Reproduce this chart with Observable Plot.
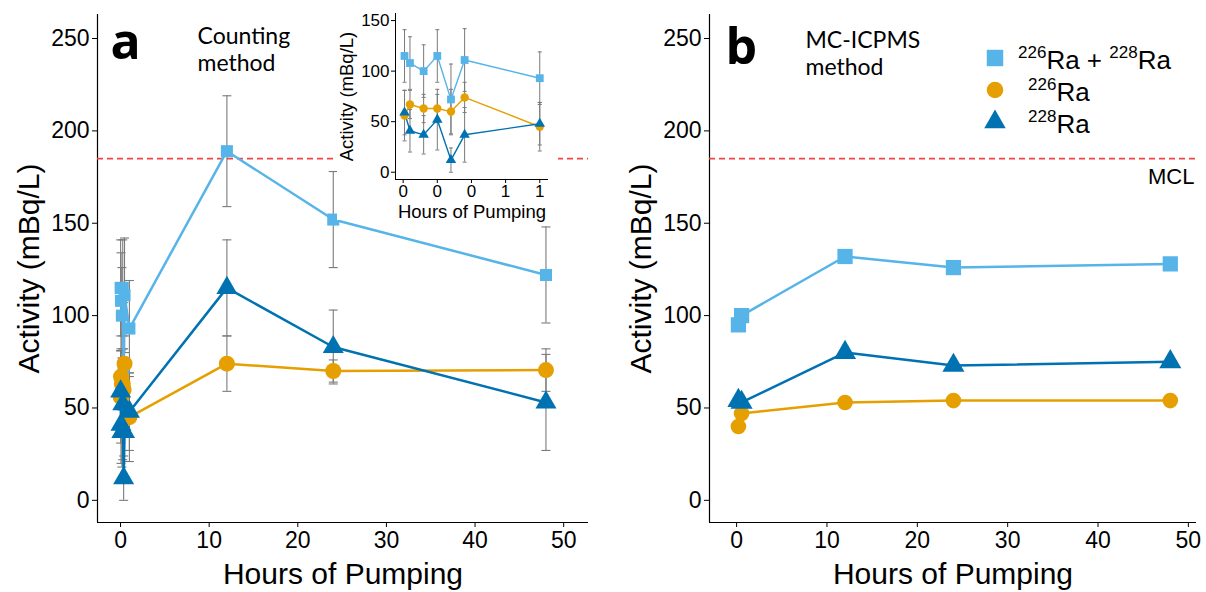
<!DOCTYPE html>
<html><head><meta charset="utf-8">
<script src="https://cdn.jsdelivr.net/npm/d3@7"></script>
<script src="https://cdn.jsdelivr.net/npm/@observablehq/plot@0.6"></script>
<style>
body{margin:0;background:#fff;}
#wrap{position:relative;width:1206px;height:592px;overflow:hidden;background:#fff;}
#wrap > svg{position:absolute;overflow:visible;}
</style></head><body><div id="wrap"></div>
<script>
// ---- data ----
const hoursA    = [0.01, 0.05, 0.15, 0.25, 0.35, 0.45, 1, 12, 24, 48];
const totalA    = [115, 108, 100, 115, 72, 111, 93, 189, 152, 122];
const totalErrA = [26, 26, 26, 26, 35, 31, 26, 30, 26, 26];
const ra226A    = [56, 67, 63, 63, 60, 74, 45, 74, 70, 70.5];
const ra226ErrA = [25, 14, 14, 14, 22, 15, 24, 15, 6, 11.5];
const ra228A    = [59, 41, 37, 52, 12, 37, 48, 115, 83, 53];
const ra228ErrA = [22, 21, 19, 30, 12, 27, 21, 26, 20, 26];

const hoursB = [0.2, 0.55, 12, 24, 48];
const totalB = [95, 100, 132, 126, 128];
const ra226B = [40, 47, 53, 54, 54];
const ra228B = [54, 53, 80, 73, 75];

const mcl = [185];
const seriesNames   = ["226Ra + 228Ra", "226Ra", "228Ra"];
const seriesColors  = ["#56B4E9", "#E69F00", "#0072B2"];
const seriesSymbols = ["square", "circle", "triangle"];
const yTicks = [0, 50, 100, 150, 200, 250];
const xTicks = [0, 10, 20, 30, 40, 50];
const insetXTicks = [0, 0.25, 0.5, 0.75, 1];
const insetXTickLabels = ["0", "0", "0", "1", "1"];
const insetYTicks = [0, 50, 100, 150];
const yDomain = [-12, 263];
const xDomainA = [-2.6, 52.8];
const xDomainB = [-3.0, 50.9];
const insetXDomain = [-0.056, 1.064];
const insetYDomain = [-7.2, 157];

// ---- tidy tables ----
function rows(hours, vals, errs) {
  const out = [];
  vals.forEach((arr, s) => arr.forEach((v, i) =>
    out.push({hour: hours[i], value: v, err: errs ? errs[s][i] : 0, series: seriesNames[s]})));
  return out;
}
const dataA = rows(hoursA, [totalA, ra226A, ra228A], [totalErrA, ra226ErrA, ra228ErrA]);
const dataInset = dataA.filter(d => d.hour <= 1);
const dataB = rows(hoursB, [totalB, ra226B, ra228B]);

const SANS = "Liberation Sans, Arial, sans-serif";
const HUM = "Lato, Open Sans, sans-serif";

function errorMarks(data, {capW, ew}) {
  const cap = {draw(ctx) { ctx.moveTo(-capW / 2, 0); ctx.lineTo(capW / 2, 0); }};
  return [
    Plot.ruleX(data, {x: "hour", y1: d => d.value - d.err, y2: d => d.value + d.err, stroke: "#7a7a7a", strokeWidth: ew}),
    Plot.dot(data, {x: "hour", y: d => d.value + d.err, symbol: cap, r: 3, fill: "none", stroke: "#7a7a7a", strokeWidth: ew}),
    Plot.dot(data, {x: "hour", y: d => d.value - d.err, symbol: cap, r: 3, fill: "none", stroke: "#7a7a7a", strokeWidth: ew})
  ];
}
function seriesMarks(data, {lw, rs}) {
  const marks = [];
  seriesNames.forEach((name, i) => {
    marks.push(Plot.line(data.filter(d => d.series === name), {x: "hour", y: "value", stroke: seriesColors[i], strokeWidth: lw}));
  });
  seriesNames.forEach((name, i) => {
    marks.push(Plot.dot(data.filter(d => d.series === name), {x: "hour", y: "value", symbol: seriesSymbols[i], r: rs[i], fill: seriesColors[i], stroke: "none"}));
  });
  return marks;
}

function axes(xDomain, fs) {
  return [
    Plot.ruleX([xDomain[0]], {stroke: "black", strokeWidth: 1.2}),
    Plot.ruleY([yDomain[0]], {stroke: "black", strokeWidth: 1.2}),
    Plot.axisY(yTicks, {tickSize: 5, tickPadding: 3, fontSize: fs, label: null}),
    Plot.axisX(xTicks, {tickSize: 5, tickPadding: 4, fontSize: fs, label: null}),
    Plot.text(["Hours of Pumping"], {frameAnchor: "bottom", dy: 52, fontSize: 30, fontFamily: SANS, textAnchor: "middle", lineAnchor: "middle"}),
    Plot.text(["Activity (mBq/L)"], {frameAnchor: "left", dx: -68, rotate: -90, fontSize: 30, fontFamily: SANS, textAnchor: "middle", lineAnchor: "middle"})
  ];
}

const wrap = document.getElementById("wrap");

// ---- panel a ----
const panelA = Plot.plot({
  width: 600, height: 592,
  marginLeft: 97, marginRight: 12, marginTop: 14, marginBottom: 70,
  style: {fontFamily: SANS, color: "black", background: "white", overflow: "visible"},
  x: {domain: xDomainA},
  y: {domain: yDomain},
  marks: [
    ...axes(xDomainA, 23),
    ...errorMarks(dataA, {capW: 9, ew: 1.1}),
    Plot.ruleY(mcl, {stroke: "#F04545", strokeWidth: 1.6, strokeDasharray: "6,4"}),
    ...seriesMarks(dataA, {lw: 2.5, rs: [6.8, 8, 7.8]}),
    Plot.text(["a"], {frameAnchor: "top-left", dx: 13, dy: 28, fontSize: 50, fontWeight: "bold", fontFamily: "Open Sans, sans-serif", textAnchor: "start", lineAnchor: "middle"}),
    Plot.text(["Counting\nmethod"], {frameAnchor: "top-left", dx: 100, dy: 10, fontSize: 23, lineHeight: 1.18, fontFamily: HUM, textAnchor: "start", lineAnchor: "top"})
  ]
});
panelA.style.left = "0px"; panelA.style.top = "0px";
wrap.appendChild(panelA);

// ---- panel b ----
const panelB = Plot.plot({
  width: 606, height: 592,
  marginLeft: 109, marginRight: 10, marginTop: 14, marginBottom: 70,
  style: {fontFamily: SANS, color: "black", background: "white", overflow: "visible"},
  x: {domain: xDomainB},
  y: {domain: yDomain},
  marks: [
    ...axes(xDomainB, 23),
    Plot.ruleY(mcl, {stroke: "#F04545", strokeWidth: 1.6, strokeDasharray: "6,4"}),
    Plot.text(mcl, {x: xDomainB[1], y: d => d, text: () => "MCL", dy: 18, dx: -2, textAnchor: "end", fontSize: 22, fontFamily: SANS}),
    ...seriesMarks(dataB, {lw: 2.5, rs: [8.6, 7.8, 8.2]}),
    Plot.text(["b"], {frameAnchor: "top-left", dx: 16, dy: 33, fontSize: 50, fontWeight: "bold", fontFamily: "Open Sans, sans-serif", textAnchor: "start", lineAnchor: "middle"}),
    Plot.text(["MC-ICPMS\nmethod"], {frameAnchor: "top-left", dx: 96, dy: 14, fontSize: 23, lineHeight: 1.18, fontFamily: HUM, textAnchor: "start", lineAnchor: "top"})
  ]
});
panelB.style.left = "600px"; panelB.style.top = "0px";
wrap.appendChild(panelB);

// ---- inset ----
const inset = Plot.plot({
  width: 221, height: 220,
  marginLeft: 58, marginRight: 10, marginTop: 13, marginBottom: 41,
  style: {fontFamily: SANS, color: "black", background: "white", overflow: "visible"},
  x: {domain: insetXDomain},
  y: {domain: insetYDomain},
  marks: [
    Plot.ruleX([insetXDomain[0]], {stroke: "black", strokeWidth: 1}),
    Plot.ruleY([insetYDomain[0]], {stroke: "black", strokeWidth: 1}),
    Plot.axisY(insetYTicks, {tickSize: 4, tickPadding: 2, fontSize: 17, label: null}),
    Plot.axisX(insetXTicks, {tickSize: 4, tickPadding: 1, fontSize: 17, label: null, tickFormat: (d, i) => insetXTickLabels[i]}),
    Plot.text(["Hours of Pumping"], {frameAnchor: "bottom", dy: 33, fontSize: 18.5, fontFamily: SANS, textAnchor: "middle", lineAnchor: "middle"}),
    Plot.text(["Activity (mBq/L)"], {frameAnchor: "left", dx: -48, rotate: -90, fontSize: 18.5, fontFamily: SANS, textAnchor: "middle", lineAnchor: "middle"}),
    ...errorMarks(dataInset, {capW: 4, ew: 1}),
    ...seriesMarks(dataInset, {lw: 1.4, rs: [4.4, 4.2, 3.9]})
  ]
});
inset.style.left = "337px"; inset.style.top = "0px";
wrap.appendChild(inset);

// ---- legend ----
const leg = d3.select(wrap).append("svg")
  .style("left", "960px").style("top", "30px")
  .attr("width", 240).attr("height", 120)
  .attr("font-family", SANS);
const legRows = [
  {y: 28, sym: d3.symbolSquare, size: 270, parts: [["226", true], ["Ra + ", false], ["228", true], ["Ra", false]], tx: 58},
  {y: 60, sym: d3.symbolCircle, size: 215, parts: [["226", true], ["Ra", false]], tx: 68},
  {y: 92, sym: d3.symbolTriangle, size: 200, parts: [["228", true], ["Ra", false]], tx: 68}
];
legRows.forEach((r, i) => {
  leg.append("path").attr("d", d3.symbol(r.sym, r.size)()).attr("transform", `translate(35,${r.y})`).attr("fill", seriesColors[i]);
  const t = leg.append("text").attr("x", r.tx).attr("y", r.y + 11).attr("font-size", 26).attr("fill", "black");
  let up = false;
  r.parts.forEach(([s, sup]) => {
    const ts = t.append("tspan").text(s);
    if (sup) { ts.attr("font-size", 17).attr("dy", up ? 0 : -11); up = true; }
    else { ts.attr("dy", up ? 11 : 0); up = false; }
  });
});
</script></body></html>
